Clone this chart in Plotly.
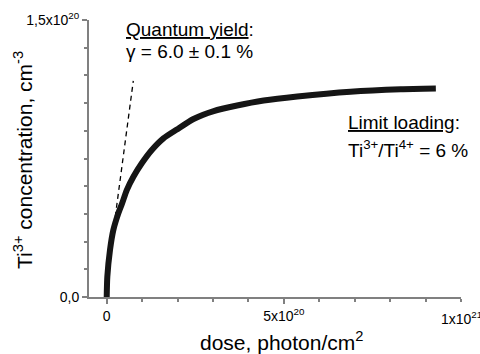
import plotly.graph_objects as go

# Measured Ti3+ concentration vs dose
dose = [0, 0.17e19, 0.93e19, 1.87e19, 3.28e19, 4.33e19, 5.66e19, 7.53e19, 9.90e19,
        1.273e20, 1.601e20, 1.980e20, 2.45e20, 3.02e20, 3.68e20, 4.43e20, 5.38e20,
        6.88e20, 8.30e20, 9.29e20]
conc = [0, 1.10e19, 2.55e19, 3.63e19, 4.53e19, 5.06e19, 5.79e19, 6.51e19, 7.24e19,
        7.96e19, 8.59e19, 9.07e19, 9.64e19, 1.007e20, 1.037e20, 1.064e20, 1.086e20,
        1.112e20, 1.125e20, 1.129e20]

# Initial-slope tangent (quantum yield)
tangent_dose = [-6e18, 7.5e19]
tangent_conc = [0, 1.17e20]

x_major = [0, 5e20, 1e21]
x_major_text = ["0", "5x10<sup>20</sup>", "1x10<sup>21</sup>"]
x_minor = [i * 1e20 for i in range(0, 11)]
y_major = [0, 1.5e20]
y_major_text = ["0,0", "1,5x10<sup>20</sup>"]
y_minor = [i * 1.5e19 for i in range(0, 11)]

FONT = "Arial, Liberation Sans, sans-serif"
AX = "#808080"

fig = go.Figure()
fig.add_trace(go.Scatter(x=tangent_dose, y=tangent_conc, mode="lines",
                         line=dict(color="black", width=1.3, dash="5px,4px"),
                         showlegend=False, hoverinfo="skip"))
fig.add_trace(go.Scatter(x=dose, y=conc, mode="lines",
                         line=dict(color="#151515", width=6, shape="spline", smoothing=0.6),
                         showlegend=False))

fig.update_layout(
    width=480, height=354,
    margin=dict(l=89, r=19, t=20, b=57, autoexpand=False),
    plot_bgcolor="white", paper_bgcolor="white",
    font=dict(family=FONT, color="black", size=14),
    xaxis=dict(range=[-5e19, 1e21], showgrid=False, zeroline=False,
               showline=True, linecolor=AX, linewidth=2,
               tickmode="array", tickvals=x_major[:2], ticktext=x_major_text[:2],
               ticks="outside", ticklen=5, tickwidth=1.5, tickcolor=AX,
               tickfont=dict(size=14),
               minor=dict(tickmode="array", tickvals=x_minor, ticks="outside",
                          ticklen=3, tickwidth=1.5, tickcolor=AX)),
    yaxis=dict(range=[0, 1.5e20], showgrid=False, zeroline=False,
               showline=True, linecolor=AX, linewidth=2,
               tickmode="array", tickvals=y_major, ticktext=y_major_text,
               ticks="outside", ticklen=5, tickwidth=1.5, tickcolor=AX,
               tickfont=dict(size=14),
               minor=dict(tickmode="array", tickvals=y_minor, ticks="outside",
                          ticklen=3, tickwidth=1.5, tickcolor=AX)),
)

# last x tick (drawn at the right border, partly cut by the edge as in the original)
fig.add_shape(type="line", xref="x", yref="paper", x0=x_major[2], x1=x_major[2],
              y0=0, y1=-5 / 277.0, line=dict(color=AX, width=1.5))
fig.add_annotation(text=x_major_text[2], x=x_major[2], xref="x", y=-10 / 277.0, yref="paper",
                   xanchor="center", yanchor="top", showarrow=False,
                   font=dict(family=FONT, size=14, color="black"))


def px(xp):
    return (xp - 89) / 372.0


def py(yp):
    return (297 - yp) / 277.0


ann = [
    dict(text="<u>Quantum yield</u>:", x=px(124), y=py(29), xanchor="left", yanchor="middle", size=19),
    dict(text="\u03b3 = 6.0 \u00b1 0.1 %", x=px(124), y=py(52), xanchor="left", yanchor="middle", size=19),
    dict(text="<u>Limit loading</u>:", x=px(346), y=py(123), xanchor="left", yanchor="middle", size=19),
    dict(text="Ti<sup>3+</sup>/Ti<sup>4+</sup> = 6 %", x=px(346), y=py(149), xanchor="left", yanchor="middle", size=19),
    dict(text="dose, photon/cm<sup>2</sup>", x=px(281), y=py(341), xanchor="center", yanchor="middle", size=21),
]
for a in ann:
    fig.add_annotation(text=a["text"], x=a["x"], y=a["y"], xref="paper", yref="paper",
                       xanchor=a["xanchor"], yanchor=a["yanchor"], showarrow=False,
                       font=dict(family=FONT, size=a["size"], color="black"))
fig.add_annotation(text="Ti<sup>3+</sup> concentration, cm<sup>-3</sup>", x=px(23), y=py(160),
                   xref="paper", yref="paper", textangle=-90, showarrow=False,
                   xanchor="center", yanchor="middle",
                   font=dict(family=FONT, size=21, color="black"))

fig.write_html("out.html", config={"displayModeBar": False},
               post_script="document.body.style.margin='0';document.body.style.overflow='hidden';")
